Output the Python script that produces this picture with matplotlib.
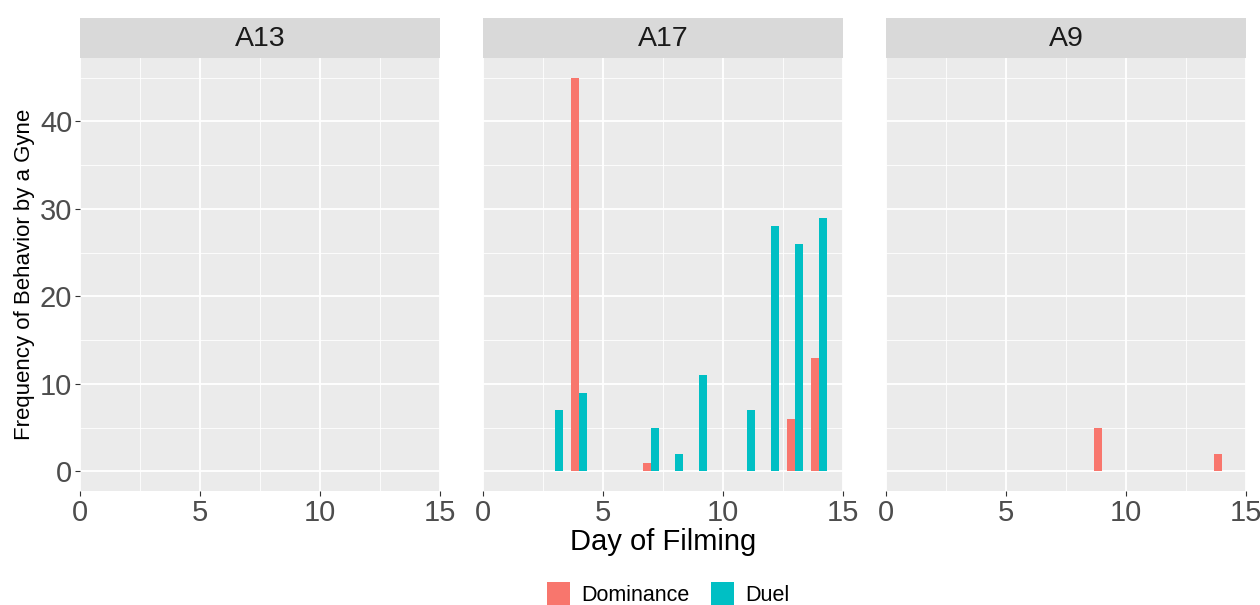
import numpy as np
import matplotlib
matplotlib.use("Agg")
import matplotlib.pyplot as plt
from matplotlib.patches import Patch

plt.rcParams['font.family'] = ['Liberation Sans', 'DejaVu Sans']

#-----------------
# Data
#-----------------
panels = ['A13', 'A17', 'A9']

days_a13 = []
dominance_a13 = []
duel_a13 = []

days_a17 = [3, 4, 7, 8, 9, 11, 12, 13, 14]
dominance_a17 = [0, 45, 1, 0, 0, 0, 0, 6, 13]
duel_a17 = [7, 9, 5, 2, 11, 7, 28, 26, 29]

days_a9 = [9, 14]
dominance_a9 = [5, 2]
duel_a9 = [0, 0]

panel_data = {
    'A13': (days_a13, dominance_a13, duel_a13),
    'A17': (days_a17, dominance_a17, duel_a17),
    'A9': (days_a9, dominance_a9, duel_a9),
}

col_dom = '#F8766D'
col_duel = '#00BFC4'
bar_w = 0.35

#-----------------
# Layout (ggplot-like facets)
#-----------------
W, H = 1260, 605
fig = plt.figure(figsize=(W / 100, H / 100), dpi=100)

panel_left = [80, 483, 886]
panel_w = 360
panel_top, panel_bot = 58, 491
strip_top = 18

for name, lx in zip(panels, panel_left):
    ax = fig.add_axes([lx / W, 1 - panel_bot / H, panel_w / W, (panel_bot - panel_top) / H])
    ax.set_facecolor('#EBEBEB')
    for s in ax.spines.values():
        s.set_visible(False)

    days, dom, duel = panel_data[name]
    d = np.array(days, dtype=float)
    if len(d):
        ax.bar(d - bar_w / 2, dom, width=bar_w, color=col_dom, linewidth=0, zorder=3)
        ax.bar(d + bar_w / 2, duel, width=bar_w, color=col_duel, linewidth=0, zorder=3)

    ax.set_xlim(0, 15)
    ax.set_ylim(-2.25, 47.25)
    ax.set_xticks([0, 5, 10, 15])
    ax.set_xticks([2.5, 7.5, 12.5], minor=True)
    ax.set_yticks([0, 10, 20, 30, 40])
    ax.set_yticks([5, 15, 25, 35, 45], minor=True)
    ax.grid(which='major', color='white', linewidth=1.3, zorder=0)
    ax.grid(which='minor', color='white', linewidth=0.6, zorder=0)
    ax.set_axisbelow(True)
    ax.tick_params(which='minor', length=0)
    ax.tick_params(which='major', length=3.5, width=0.8, color='#333333',
                   labelsize=21, labelcolor='#4D4D4D', pad=2)
    if name != 'A13':
        ax.tick_params(axis='y', left=False, labelleft=False)

    # strip
    sax = fig.add_axes([lx / W, 1 - panel_top / H, panel_w / W, (panel_top - strip_top) / H])
    sax.set_facecolor('#D9D9D9')
    sax.set_xticks([])
    sax.set_yticks([])
    for s in sax.spines.values():
        s.set_visible(False)
    sax.text(0.5, 0.47, name, ha='center', va='center', fontsize=20.5, color='#1A1A1A',
             transform=sax.transAxes)

fig.text(663 / W, 1 - 542 / H, 'Day of Filming', ha='center', va='center', fontsize=21, color='black')
fig.text(25 / W, 1 - 274 / H, 'Frequency of Behavior by a Gyne', ha='center', va='center',
         rotation=90, fontsize=16, color='black')

handles = [Patch(facecolor=col_dom, edgecolor='none', label='Dominance'),
           Patch(facecolor=col_duel, edgecolor='none', label='Duel')]
fig.legend(handles=handles, loc='center', bbox_to_anchor=(668 / W, 1 - 594 / H), ncol=2,
           frameon=False, fontsize=15.5, handlelength=1.1, handleheight=1.3,
           handletextpad=0.5, columnspacing=1.0)

fig.savefig('out.png', dpi=100)
